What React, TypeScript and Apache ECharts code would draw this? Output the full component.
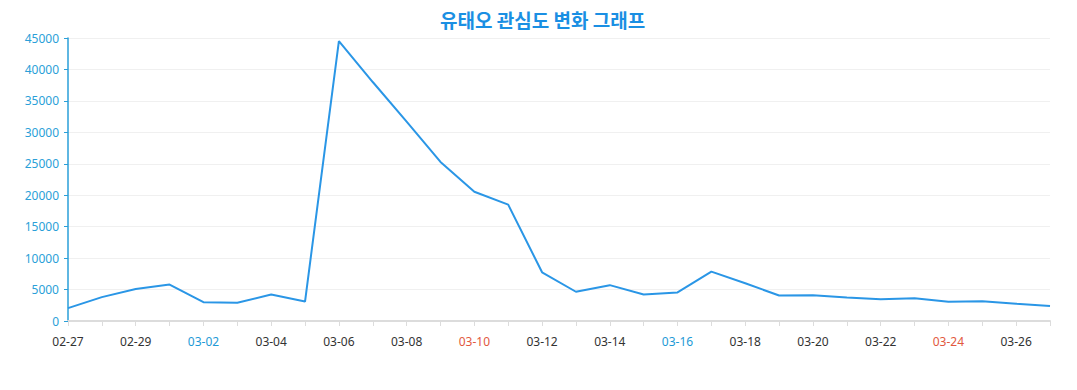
import React, { useEffect, useRef } from "react";
import * as echarts from "echarts";

const titleText = "유태오 관심도 변화 그래프";
const dates = [
  "02-27", "02-28", "02-29", "03-01", "03-02", "03-03", "03-04", "03-05", "03-06", "03-07",
  "03-08", "03-09", "03-10", "03-11", "03-12", "03-13", "03-14", "03-15", "03-16", "03-17",
  "03-18", "03-19", "03-20", "03-21", "03-22", "03-23", "03-24", "03-25", "03-26", "03-27",
];
const values = [
  2050, 3800, 5100, 5800, 3000, 2900, 4200, 3100, 44500, 38000,
  31700, 25300, 20550, 18500, 7750, 4650, 5700, 4200, 4550, 7850,
  6000, 4050, 4100, 3750, 3450, 3600, 3050, 3150, 2750, 2400,
];
// 2024 weekdays: Saturday / Sunday
const saturdays = ["03-02", "03-09", "03-16", "03-23"];
const sundays = ["03-03", "03-10", "03-17", "03-24"];

export default function App() {
  const ref = useRef<HTMLDivElement>(null);
  useEffect(() => {
    if (!ref.current) return;
    const chart = echarts.init(ref.current, undefined, { renderer: "svg" });
    chart.setOption({
      animation: false,
      textStyle: { fontFamily: "'Noto Sans', 'Noto Sans CJK KR', sans-serif" },
      title: {
        text: titleText,
        left: 435,
        top: 5,
        textStyle: { color: "#1a8fe3", fontSize: 19, fontWeight: "bold", fontFamily: "'Noto Sans CJK KR', sans-serif" },
      },
      grid: { left: 68, right: 27, top: 38, bottom: 69 },
      xAxis: {
        type: "category",
        data: dates,
        boundaryGap: false,
        axisLine: { lineStyle: { color: "#dcdcdc", width: 2 } },
        axisTick: { interval: 0, lineStyle: { color: "#dcdcdc" }, length: 5 },
        axisLabel: {
          interval: 1,
          margin: 14,
          fontSize: 12,
          color: (v: string) =>
            saturdays.includes(v) ? "#1e9ad6" : sundays.includes(v) ? "#e2583e" : "#333333",
        },
      },
      yAxis: {
        type: "value",
        min: 0,
        max: 45000,
        interval: 5000,
        axisLine: { show: true, lineStyle: { color: "#2a9fd8", width: 1.5 } },
        axisTick: { show: true, length: 4, lineStyle: { color: "#2a9fd8" } },
        axisLabel: { color: "#2a9fd8", fontSize: 12, margin: 9, formatter: (v: number) => String(v) },
        splitLine: { lineStyle: { color: "#f0f0f0" } },
      },
      series: [
        {
          type: "line",
          data: values,
          showSymbol: false,
          symbol: "none",
          lineStyle: { color: "#2a96e6", width: 2 },
        },
      ],
    });
    return () => chart.dispose();
  }, []);
  return <div ref={ref} style={{ width: 1077, height: 390, position: "absolute", left: 0, top: 0 }} />;
}
